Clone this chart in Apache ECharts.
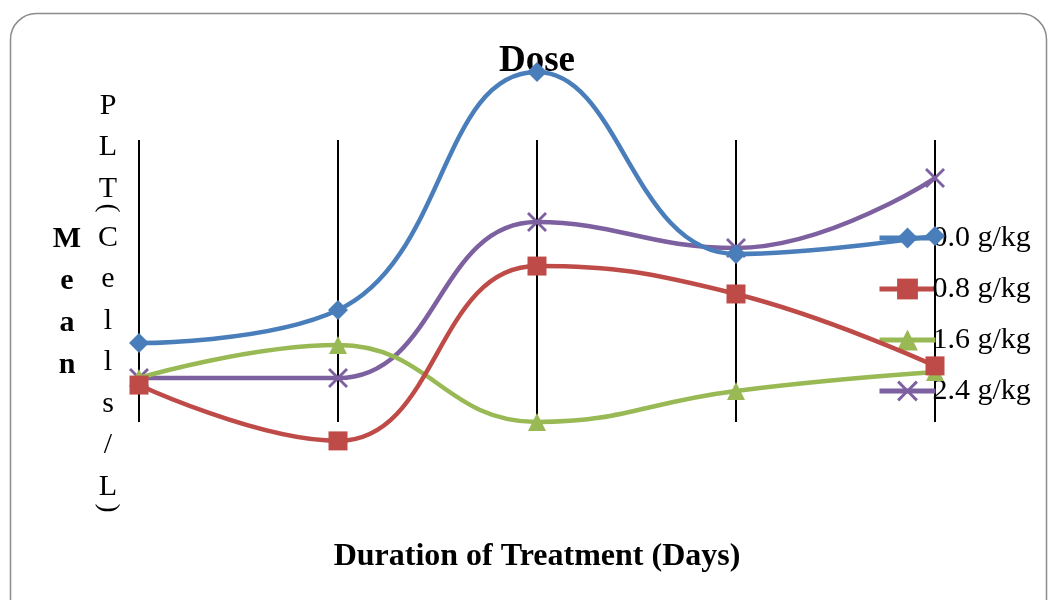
<!DOCTYPE html>
<html>
<head>
<meta charset="utf-8">
<script src="https://cdn.jsdelivr.net/npm/echarts@6/dist/echarts.min.js"></script>
<style>
  html, body { margin: 0; padding: 0; background: #fff; }
  #chart { width: 1049px; height: 600px; }
</style>
</head>
<body>
<div id="chart"></div>
<script>
// days (no labels shown in the original)
const days = ["1", "2", "3", "4", "5"];
const seriesNames = ["0.0 g/kg", "0.8 g/kg", "1.6 g/kg", "2.4 g/kg"];
// mean PLT (relative units)
const dose00 = [28.0, 39.7, 124.1, 59.6, 66.0];
const dose08 = [13.1, -6.7, 55.3, 45.4, 19.9];
const dose16 = [15.6, 27.3, 0.0, 11.0, 17.7];
const dose24 = [15.6, 15.6, 70.9, 61.7, 86.5];

const colors = ["#4A7EBB", "#BE4B48", "#98B954", "#7D60A0"];
const symbols = [
  "diamond",
  "rect",
  "triangle",
  "path://M0,1L1,0L5,4L9,0L10,1L6,5L10,9L9,10L5,6L1,10L0,9L4,5Z"
];
const symbolSizes = [20, 19, 18, 20];
const values = [dose00, dose08, dose16, dose24];

const chart = echarts.init(document.getElementById("chart"));

let series = [];
for (let i = 0; i < seriesNames.length; i++) {
  series.push({
    name: seriesNames[i],
    type: "line",
    data: values[i],
    smooth: 0.45,
    clip: false,
    symbol: symbols[i],
    symbolSize: symbolSizes[i],
    lineStyle: { width: 4.5, color: colors[i] },
    itemStyle: { color: colors[i] },
    z: 10 - i
  });
}

// stacked letters of the y axis name, like the vertical text in the original
const yTextStyle = {
  fontFamily: "Liberation Serif",
  fontSize: 30,
  lineHeight: 41.5,
  fill: "#000",
  align: "center"
};
const parenStyle = {
  fontFamily: "Liberation Serif",
  fontSize: 27,
  fill: "#000",
  align: "center",
  verticalAlign: "middle"
};

const option = {
  animation: false,
  color: colors,
  title: {
    text: "Dose",
    left: 532,
    textAlign: "center",
    top: 38,
    textStyle: { fontFamily: "Liberation Serif", fontSize: 37, fontWeight: "bold", color: "#000" }
  },
  legend: {
    orient: "vertical",
    left: 872,
    top: 218,
    itemWidth: 56,
    itemHeight: 26,
    itemGap: 21,
    data: seriesNames,
    lineStyle: { width: 5 },
    textStyle: { fontFamily: "Liberation Serif", fontSize: 30, color: "#000", padding: [0, 0, 0, -8] }
  },
  grid: { left: 139, right: 114, top: 140, bottom: 178 },
  xAxis: {
    type: "category",
    data: days,
    boundaryGap: false,
    axisLine: { show: false },
    axisTick: { show: false },
    axisLabel: { show: false },
    splitLine: { show: true, lineStyle: { color: "#000", width: 2 } }
  },
  yAxis: {
    type: "value",
    min: 0,
    max: 100,
    show: false,
    splitLine: { show: false }
  },
  graphic: [
    {
      type: "rect",
      shape: { x: 10.5, y: 13.5, width: 1036, height: 620, r: 26 },
      style: { fill: "none", stroke: "#8c8c8c", lineWidth: 1.5 },
      z: -1
    },
    {
      type: "text",
      x: 537,
      y: 557,
      style: {
        text: "Duration of Treatment (Days)",
        fontFamily: "Liberation Serif",
        fontSize: 32,
        fontWeight: "bold",
        fill: "#000",
        align: "center",
        verticalAlign: "middle"
      }
    },
    {
      type: "text",
      x: 67,
      y: 218,
      style: {
        text: "M\ne\na\nn",
        fontFamily: "Liberation Serif",
        fontSize: 30,
        fontWeight: "bold",
        lineHeight: 42,
        fill: "#000",
        align: "center"
      }
    },
    { type: "text", x: 108, y: 85, style: Object.assign({ text: "P\nL\nT" }, yTextStyle) },
    { type: "text", x: 108, y: 208, rotation: -Math.PI / 2, style: Object.assign({ text: "(" }, parenStyle) },
    { type: "text", x: 108, y: 217, style: Object.assign({ text: "C\ne\nl\nl\ns\n/\nL" }, yTextStyle) },
    { type: "text", x: 108, y: 508, rotation: -Math.PI / 2, style: Object.assign({ text: ")" }, parenStyle) }
  ],
  series: series
};
chart.setOption(option);
</script>
</body>
</html>
